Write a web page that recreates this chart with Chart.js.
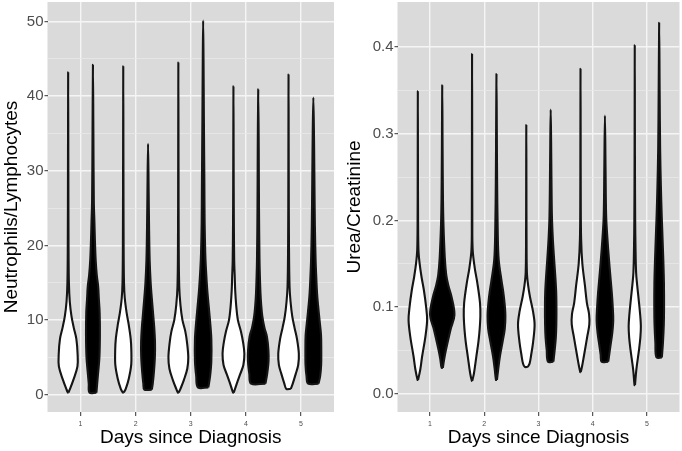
<!DOCTYPE html>
<html>
<head>
<meta charset="utf-8">
<script src="https://cdn.jsdelivr.net/npm/chart.js@4"></script>
<style>
  html, body { margin: 0; padding: 0; background: #fff; }
  .panel { position: absolute; top: 0; width: 341px; height: 451px; }
  #left { left: 0; }
  #right { left: 341px; }
</style>
</head>
<body>
<div class="panel" id="left"><canvas id="nlrChart" width="341" height="451"></canvas></div>
<div class="panel" id="right"><canvas id="ucrChart" width="341" height="451"></canvas></div>
<script>
// x categories
const days = [1, 2, 3, 4, 5];

// Neutrophils/Lymphocytes, open violins: y knots and relative half widths (1 = widest violin)
const nlrOpenY = [
  [0.3, 0.8, 2, 3.8, 5.5, 7.5, 9, 10.5, 12.5, 15, 20, 30, 43.2],
  [0.3, 0.8, 2.2, 4, 6, 7.5, 9.4, 11, 13, 15, 20, 30, 44],
  [0.3, 0.8, 2, 3.5, 5, 7, 8.5, 10, 12, 14.5, 20, 30, 44.5],
  [0.3, 1.5, 2.8, 4, 5.5, 7, 8.5, 10, 12, 14, 16, 18, 24, 32, 41.3],
  [0.8, 1.5, 2.8, 4, 5.5, 7.5, 9, 10.5, 12.5, 14.5, 20, 30, 42.9]
];
const nlrOpenW = [
  [0.02, 0.15, 0.42, 0.75, 0.76, 0.66, 0.45, 0.27, 0.13, 0.06, 0.03, 0.015, 0],
  [0.03, 0.2, 0.45, 0.64, 0.65, 0.6, 0.44, 0.27, 0.12, 0.06, 0.03, 0.015, 0],
  [0.03, 0.17, 0.45, 0.72, 0.8, 0.7, 0.56, 0.33, 0.17, 0.07, 0.03, 0.015, 0],
  [0.03, 0.27, 0.55, 0.8, 0.88, 0.78, 0.6, 0.36, 0.22, 0.14, 0.1, 0.06, 0.03, 0.015, 0],
  [0.18, 0.34, 0.58, 0.78, 0.83, 0.68, 0.48, 0.3, 0.16, 0.08, 0.035, 0.015, 0]
];
// Neutrophils/Lymphocytes, filled violins
const nlrFilledY = [
  [0.3, 1.5, 3, 5, 8, 11, 13, 14.5, 16, 18, 20.6, 23, 26, 35, 44.2],
  [0.7, 1.5, 3, 5, 7, 9, 11, 13, 15, 18, 22, 27, 33.6],
  [1.0, 2.5, 4.5, 7.5, 10, 12, 14.3, 17, 19, 23, 28, 37, 45, 50.1],
  [1.5, 2.8, 4.5, 6, 7.8, 9, 10.5, 12, 13.6, 16, 18.2, 25, 33, 40.9],
  [1.5, 2.5, 4, 6, 8, 10, 12, 13.6, 16, 18.2, 22.6, 30, 35, 39.8]
];
const nlrFilledW = [
  [0.28, 0.34, 0.42, 0.52, 0.56, 0.54, 0.47, 0.42, 0.31, 0.22, 0.16, 0.12, 0.07, 0.035, 0],
  [0.3, 0.38, 0.47, 0.55, 0.56, 0.5, 0.4, 0.3, 0.21, 0.13, 0.085, 0.05, 0],
  [0.42, 0.56, 0.66, 0.66, 0.55, 0.44, 0.32, 0.22, 0.17, 0.12, 0.1, 0.06, 0.03, 0],
  [0.58, 0.72, 0.83, 0.82, 0.7, 0.5, 0.33, 0.24, 0.18, 0.13, 0.1, 0.06, 0.04, 0],
  [0.42, 0.55, 0.63, 0.64, 0.62, 0.5, 0.38, 0.3, 0.23, 0.18, 0.125, 0.08, 0.05, 0]
];

// Urea/Creatinine, open violins
const ucrOpenY = [
  [0.016, 0.028, 0.043, 0.066, 0.085, 0.1, 0.12, 0.135, 0.151, 0.166, 0.2, 0.26, 0.349],
  [0.015, 0.024, 0.043, 0.06, 0.074, 0.09, 0.105, 0.128, 0.145, 0.166, 0.2, 0.3, 0.392],
  [0.031, 0.035, 0.045, 0.06, 0.08, 0.095, 0.112, 0.125, 0.14, 0.18, 0.24, 0.31],
  [0.025, 0.032, 0.043, 0.066, 0.08, 0.092, 0.105, 0.125, 0.15, 0.178, 0.22, 0.3, 0.375],
  [0.010, 0.028, 0.051, 0.065, 0.078, 0.09, 0.109, 0.125, 0.14, 0.17, 0.2, 0.27, 0.402]
];
const ucrOpenW = [
  [0.02, 0.2, 0.35, 0.62, 0.76, 0.68, 0.49, 0.3, 0.14, 0.05, 0.02, 0.01, 0],
  [0.02, 0.16, 0.35, 0.52, 0.62, 0.68, 0.65, 0.43, 0.22, 0.05, 0.02, 0.01, 0],
  [0.12, 0.27, 0.4, 0.56, 0.68, 0.55, 0.3, 0.15, 0.05, 0.02, 0.01, 0],
  [0.02, 0.13, 0.27, 0.55, 0.72, 0.7, 0.52, 0.36, 0.15, 0.05, 0.02, 0.01, 0],
  [0.02, 0.13, 0.35, 0.46, 0.5, 0.45, 0.32, 0.2, 0.11, 0.06, 0.035, 0.015, 0]
];
// Urea/Creatinine, filled violins
const ucrFilledY = [
  [0.03, 0.04, 0.051, 0.074, 0.091, 0.112, 0.125, 0.137, 0.157, 0.195, 0.224, 0.28, 0.356],
  [0.016, 0.028, 0.043, 0.06, 0.075, 0.09, 0.105, 0.118, 0.13, 0.155, 0.19, 0.25, 0.3, 0.369],
  [0.037, 0.051, 0.065, 0.08, 0.1, 0.117, 0.135, 0.155, 0.18, 0.205, 0.25, 0.29, 0.328],
  [0.037, 0.045, 0.055, 0.07, 0.085, 0.1, 0.117, 0.135, 0.155, 0.18, 0.205, 0.26, 0.321],
  [0.042, 0.059, 0.08, 0.1, 0.128, 0.15, 0.166, 0.19, 0.205, 0.24, 0.282, 0.35, 0.428]
];
const ucrFilledW = [
  [0.05, 0.16, 0.31, 0.68, 1.0, 0.76, 0.5, 0.33, 0.21, 0.1, 0.06, 0.03, 0],
  [0.04, 0.14, 0.28, 0.5, 0.68, 0.73, 0.66, 0.55, 0.42, 0.18, 0.1, 0.05, 0.03, 0],
  [0.22, 0.33, 0.42, 0.46, 0.47, 0.45, 0.38, 0.28, 0.17, 0.1, 0.06, 0.035, 0],
  [0.27, 0.35, 0.45, 0.6, 0.68, 0.64, 0.56, 0.45, 0.33, 0.2, 0.1, 0.05, 0],
  [0.22, 0.31, 0.38, 0.4, 0.39, 0.35, 0.31, 0.25, 0.21, 0.14, 0.08, 0.04, 0]
];

// tick labels / grid breaks
const nlrMajor = [0, 10, 20, 30, 40, 50];
const nlrMinor = [5, 15, 25, 35, 45];
const ucrMajor = [0, 0.1, 0.2, 0.3, 0.4];
const ucrMinor = [0.05, 0.15, 0.25, 0.35];

const DODGE = 0.225;   // offset of each group inside a day (dodge width 0.9)
const HALF = 0.225;    // half width of the widest violin
const FONT = "'Liberation Sans', Arial, Helvetica, sans-serif";
const PANEL = '#dadada';
const GRID_MAJOR = '#f5f5f5';
const GRID_MINOR = '#e9e9e9';

Chart.defaults.font.family = FONT;

// build one closed violin outline: up the right side, down the left side
function violin(x, ys, ws, fillColor) {
  const right = ys.map((y, i) => ({ x: x + ws[i] * HALF, y: y }));
  const left = ys.map((y, i) => ({ x: x - ws[i] * HALF, y: y })).reverse().slice(1);
  const pts = right.concat(left);
  pts.push(right[0]);
  return {
    data: pts,
    showLine: true,
    fill: 'shape',
    backgroundColor: fillColor,
    borderColor: '#151515',
    borderWidth: 2.1,
    borderJoinStyle: 'round',
    pointRadius: 0,
    tension: 0.35
  };
}

const panelBg = {
  id: 'panelBg',
  beforeDraw(chart) {
    const { ctx, chartArea: a } = chart;
    ctx.save();
    ctx.fillStyle = PANEL;
    ctx.fillRect(a.left, a.top, a.right - a.left, a.bottom - a.top);
    ctx.restore();
  }
};

function makePanel(id, o) {
  const datasets = [];
  days.forEach((d, i) => {
    datasets.push(violin(d - DODGE, o.openY[i], o.openW[i], '#ffffff'));
    datasets.push(violin(d + DODGE, o.filledY[i], o.filledW[i], '#000000'));
  });
  const isMajor = v => o.major.includes(v);

  return new Chart(document.getElementById(id), {
    type: 'scatter',
    data: { datasets },
    options: {
      responsive: false,
      animation: false,
      events: [],
      layout: { padding: { top: 2, right: o.padRight, left: 0, bottom: 0 } },
      plugins: { legend: { display: false }, tooltip: { enabled: false } },
      scales: {
        x: {
          type: 'linear',
          min: 0.4,
          max: 5.6,
          afterBuildTicks: s => { s.ticks = days.map(v => ({ value: v })); },
          afterFit: s => { s.height = 39; s.paddingLeft = 0; s.paddingRight = 0; },
          border: { display: false },
          grid: { color: GRID_MAJOR, lineWidth: 1.4, tickLength: 4, tickColor: '#333', tickWidth: 1 },
          ticks: { color: '#4d4d4d', font: { size: 7 }, padding: 4, maxRotation: 0, autoSkip: false },
          title: {
            display: true, text: 'Days since Diagnosis', color: '#000',
            font: { size: 19, lineHeight: 1.2 }, padding: { top: 0, bottom: 1.6 }
          }
        },
        y: {
          type: 'linear',
          min: o.min,
          max: o.max,
          afterBuildTicks: s => {
            s.ticks = o.major.concat(o.minor).sort((a, b) => a - b).map(v => ({ value: v }));
          },
          afterFit: s => { s.width = o.axisWidth; s.paddingTop = 0; s.paddingBottom = 0; },
          border: { display: false },
          grid: {
            color: c => isMajor(c.tick.value) ? GRID_MAJOR : GRID_MINOR,
            lineWidth: c => isMajor(c.tick.value) ? 1.4 : 0.8,
            tickLength: 3,
            tickColor: c => isMajor(c.tick.value) ? '#333' : 'rgba(0,0,0,0)',
            tickWidth: 1
          },
          ticks: {
            callback: v => isMajor(v) ? o.fmt(v) : '',
            color: '#4d4d4d', font: { size: 15 }, padding: 1, autoSkip: false
          },
          title: {
            display: true, text: o.title, color: '#000',
            font: { size: 19, lineHeight: 1.2 }, padding: { top: o.titlePad, bottom: 0 }
          }
        }
      }
    },
    plugins: [panelBg]
  });
}

makePanel('nlrChart', {
  openY: nlrOpenY, openW: nlrOpenW, filledY: nlrFilledY, filledW: nlrFilledW,
  major: nlrMajor, minor: nlrMinor, min: -2.3, max: 52.6,
  fmt: v => String(v), title: 'Neutrophils/Lymphocytes',
  axisWidth: 47.5, padRight: 7, titlePad: 0
});

makePanel('ucrChart', {
  openY: ucrOpenY, openW: ucrOpenW, filledY: ucrFilledY, filledW: ucrFilledW,
  major: ucrMajor, minor: ucrMinor, min: -0.021, max: 0.452,
  fmt: v => v.toFixed(1), title: 'Urea/Creatinine',
  axisWidth: 56.5, padRight: 2.5, titlePad: 2.5
});
</script>
</body>
</html>
